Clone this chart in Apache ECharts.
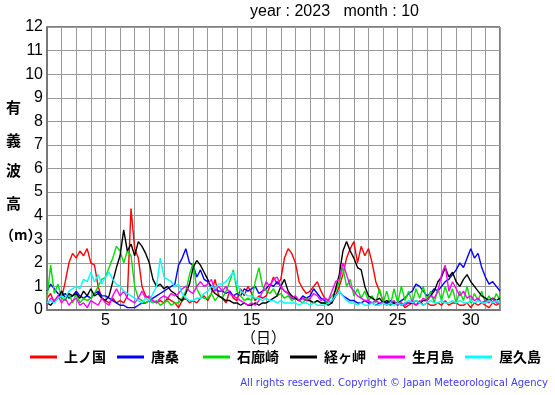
<!DOCTYPE html>
<html><head><meta charset="utf-8">
<script src="https://cdn.jsdelivr.net/npm/echarts@6/dist/echarts.min.js"></script>
<style>html,body{margin:0;padding:0;background:#fff}#c{width:555px;height:395px}</style>
</head><body><div id="c"></div>
<script>
// 6-hourly samples starting at day 1.00
const startDay = 1, stepDays = 0.25;
const names = ['上ノ国','唐桑','石廊崎','経ヶ岬','生月島','屋久島'];
const colors = ['#ff0000','#0000ff','#00dd00','#000000','#ff00ff','#00ffff'];
const xTicks = [5,10,15,20,25,30];

const kaminokuni = [
0.5,0.7,0.3,0.6, 0.5,1.2,2.0,2.4, 2.2,2.5,2.3,2.6, 2.0,1.9,1.0,0.5, 0.4,0.3,0.5,0.3,
0.4,0.3,0.6,4.3, 2.6,2.2,1.0,0.6, 0.5,0.4,0.3,0.4, 0.3,0.5,0.4,0.3, 0.1,0.4,0.5,0.3,
0.4,0.3,0.5,0.6, 0.4,0.7,1.3,0.6, 0.5,0.3,0.8,0.5, 0.4,0.9,0.6,1.0, 0.7,0.4,0.6,0.5,
0.6,1.0,1.4,1.1, 1.3,2.2,2.6,2.4, 2.0,1.2,0.9,0.7, 0.8,1.0,1.2,0.8, 0.5,0.4,0.3,0.6,
1.0,1.5,2.2,2.6, 2.9,2.0,2.7,2.3, 2.6,2.0,1.2,0.8, 0.4,0.3,0.2,0.3, 0.2,0.3,0.1,0.2,
0.3,0.2,0.4,0.2, 0.3,0.2,0.2,0.3, 0.2,0.4,0.2,0.3, 0.3,0.2,0.2,0.3, 0.1,0.3,0.2,0.3,
0.2,0.1,0.3,0.2, 0.3];
const karakuwa = [
0.8,1.1,0.9,0.7, 0.6,0.7,0.5,0.6, 0.8,0.6,0.5,0.6, 0.5,0.7,0.8,0.6, 0.6,0.5,0.4,0.3,
0.2,0.2,0.1,0.1, 0.1,0.2,0.3,0.3, 0.4,0.5,0.6,0.7, 0.8,0.9,1.0,1.1, 1.9,2.2,2.6,2.0,
1.9,1.4,1.7,1.3, 1.2,1.0,0.9,0.8, 0.8,0.7,0.8,0.6, 0.7,0.6,0.9,0.8, 0.9,1.0,0.7,0.8,
0.9,1.1,1.0,1.2, 1.0,0.8,0.7,0.5, 0.5,0.4,0.6,0.5, 0.6,0.9,0.7,0.5, 0.4,0.3,0.4,0.6,
0.8,0.6,0.5,0.4, 0.4,0.3,0.3,0.4, 0.3,0.3,0.2,0.3, 0.3,0.3,0.4,0.3, 0.3,0.4,0.5,0.7,
0.8,1.1,1.0,0.8, 0.6,0.7,0.9,0.8, 1.0,1.2,1.3,1.5, 1.7,2.0,1.8,2.2, 2.6,2.2,2.4,1.8,
1.4,1.1,1.2,1.0, 0.8];
const irozaki = [
0.5,1.9,0.7,1.1, 0.5,0.4,0.7,0.3, 0.7,0.3,0.5,0.4, 0.5,0.7,1.0,1.3, 1.4,1.8,2.2,2.7,
2.5,2.0,2.5,2.3, 1.0,0.5,0.4,0.3, 0.4,0.3,0.4,0.2, 0.3,0.4,0.2,0.3, 0.3,0.5,0.8,1.5,
2.0,0.9,0.6,0.5, 0.5,0.7,0.4,0.6, 0.5,0.8,1.2,1.7, 0.8,0.6,0.4,0.5, 0.4,1.2,1.8,1.0,
0.8,0.7,0.9,0.6, 0.7,0.5,0.6,0.4, 0.5,0.4,0.3,0.5, 0.4,0.3,0.4,0.3, 0.3,0.4,0.6,0.8,
1.2,1.8,1.0,1.3, 0.6,0.9,0.5,0.8, 0.4,0.6,0.3,0.9, 0.3,0.8,0.2,0.9, 0.3,1.0,0.4,0.8,
0.3,0.9,0.5,1.0, 0.4,0.8,0.3,0.9, 0.4,1.0,0.5,0.9, 0.3,0.8,0.4,1.0, 0.3,0.7,0.4,0.8,
0.3,0.6,0.3,0.7, 0.4];
const kyogamisaki = [
0.3,0.2,0.4,0.5, 0.8,0.5,0.7,0.6, 0.7,0.5,0.8,0.6, 0.9,0.6,0.7,0.5, 0.4,0.6,1.2,1.8,
2.3,3.4,2.5,2.8, 2.3,2.9,2.7,2.4, 2.0,1.3,1.0,1.1, 0.9,1.0,0.8,0.7, 0.5,0.4,0.7,1.1,
1.8,2.1,1.9,1.6, 1.3,0.9,0.7,0.6, 0.5,0.4,0.4,0.3, 0.3,0.2,0.3,0.2, 0.2,0.3,0.2,0.3,
0.3,0.4,0.5,0.6, 1.0,1.3,0.8,0.6, 0.5,0.4,0.5,0.4, 0.4,0.3,0.4,0.3, 0.3,0.2,0.3,0.9,
1.5,2.5,2.9,2.5, 2.2,1.8,1.7,1.0, 0.6,0.5,0.4,0.5, 0.3,0.4,0.3,0.3, 0.3,0.2,0.3,0.3,
0.3,0.4,0.3,0.4, 0.4,0.6,0.8,1.2, 1.4,1.8,1.4,1.6, 1.2,1.0,1.3,1.5, 1.2,1.0,0.8,0.6,
0.5,0.4,0.5,0.4, 0.5];
const ikitsuki = [
0.2,0.5,0.4,0.6, 0.3,0.5,0.2,0.4, 0.5,0.2,0.3,0.1, 0.4,0.3,0.2,0.5, 0.3,0.2,0.6,0.9,
0.6,0.8,0.5,0.4, 0.3,0.5,0.8,0.5, 0.6,0.4,0.3,0.5, 0.6,0.5,0.7,0.6, 0.7,0.9,1.0,0.8,
0.7,1.0,1.2,1.0, 1.1,1.3,0.8,1.0, 0.8,1.0,0.7,0.6, 0.5,0.4,0.3,0.2, 0.3,0.2,0.4,0.8,
1.2,1.0,1.3,1.4, 1.0,0.8,0.7,0.5, 0.6,0.4,0.5,0.4, 0.5,0.7,0.6,0.4, 0.5,0.4,0.8,1.2,
1.3,2.0,1.5,1.0, 0.8,0.6,0.5,0.4, 0.4,0.3,0.4,0.3, 0.3,0.2,0.3,0.4, 0.2,0.3,0.2,0.3,
0.4,0.2,0.3,0.5, 0.4,0.6,0.5,0.8, 1.5,1.9,0.8,1.2, 0.9,0.6,0.8,0.5, 0.6,0.4,0.5,0.3,
0.4,0.3,0.5,0.3, 0.3];
const yakushima = [
0.3,0.4,0.3,0.5, 0.6,0.5,0.8,0.9, 1.0,0.9,1.3,1.2, 1.6,1.2,1.5,1.1, 1.4,1.6,1.3,1.1,
1.0,0.8,0.7,0.6, 0.5,0.4,0.3,0.5, 0.4,0.7,1.0,2.2, 1.4,1.3,1.2,1.0, 1.1,0.7,0.5,0.4,
0.4,0.5,0.5,0.7, 0.8,1.0,0.9,1.1, 1.1,1.2,1.4,1.6, 1.1,0.8,0.7,0.6, 0.6,0.5,0.5,0.4,
0.5,0.4,0.4,0.3, 0.4,0.3,0.3,0.3, 0.3,0.2,0.3,0.3, 0.2,0.3,0.2,0.2, 0.2,0.3,0.4,0.6,
0.8,0.6,0.4,0.3, 0.3,0.2,0.3,0.2, 0.2,0.3,0.2,0.2, 0.3,0.2,0.3,0.2, 0.3,0.2,0.3,0.4,
0.3,0.4,0.3,0.2, 0.3,0.4,0.3,0.3, 0.4,0.3,0.3,0.4, 0.3,0.4,0.3,0.3, 0.4,0.3,0.4,0.3,
0.3,0.4,0.3,0.4, 0.3];

const seriesValues = [kaminokuni, karakuwa, irozaki, kyogamisaki, ikitsuki, yakushima];

const chart = echarts.init(document.getElementById('c'), null, {renderer:'canvas'});
const legendLefts = [30,117,203,290,378,465];
const cjk = '"Noto Sans CJK JP", sans-serif';
const latin = '"Liberation Sans", Arial, sans-serif';

const option = {
  animation: false,
  backgroundColor: '#fff',
  graphic: [
    {type: 'text', left: 6, top: 100, style: {text: '有', font: 'bold 15px ' + cjk, fill: '#000'}},
    {type: 'text', left: 6, top: 133, style: {text: '義', font: 'bold 15px ' + cjk, fill: '#000'}},
    {type: 'text', left: 6, top: 163, style: {text: '波', font: 'bold 15px ' + cjk, fill: '#000'}},
    {type: 'text', left: 6, top: 196, style: {text: '高', font: 'bold 15px ' + cjk, fill: '#000'}},
    {type: 'text', left: 0, top: 228, style: {text: '（m）', font: 'bold 14px ' + cjk, fill: '#000'}},
    {type: 'text', left: 241, top: 330, style: {text: '（日）', font: '15px ' + cjk, fill: '#000'}},
    {type: 'text', left: 250, top: 4, style: {text: 'year : 2023   month : 10', font: '16px ' + latin, fill: '#000'}},
    {type: 'text', right: 7, top: 378, style: {text: 'All rights reserved. Copyright © Japan Meteorological Agency', font: '10px "DejaVu Sans", sans-serif', fill: '#3b3bff'}}
  ],
  grid: {left: 47, top: 27, right: 55, bottom: 85, show: true, borderColor: '#000', borderWidth: 1, backgroundColor: 'transparent'},
  xAxis: {
    type: 'value', min: 1, max: 32, interval: 1,
    axisLine: {show: true, lineStyle: {color: '#777', width: 2}},
    axisTick: {show: false},
    axisLabel: {
      fontFamily: latin, fontSize: 16, color: '#000', margin: 3,
      formatter: v => xTicks.indexOf(v) >= 0 ? String(v) : ''
    },
    splitLine: {show: true, lineStyle: {color: '#999', width: 1}}
  },
  yAxis: {
    type: 'value', min: 0, max: 12, interval: 1,
    axisLine: {show: true, lineStyle: {color: '#777', width: 2}},
    axisTick: {show: false},
    axisLabel: {fontFamily: latin, fontSize: 16, color: '#000', margin: 4},
    splitLine: {show: true, lineStyle: {color: '#999', width: 1}}
  },
  legend: names.map((n, i) => ({
    data: [n], left: legendLefts[i], top: 350, icon: 'rect', itemWidth: 27, itemHeight: 3, itemGap: 0,
    padding: 0, selectedMode: false,
    textStyle: {fontFamily: cjk, fontSize: 14, fontWeight: 'bold', color: '#000', padding: [0,0,0,2]}
  })),
  series: seriesValues.map((vals, i) => ({
    name: names[i], type: 'line', showSymbol: false, symbol: 'none',
    lineStyle: {color: colors[i], width: 1.4}, itemStyle: {color: colors[i]},
    data: vals.map((v, k) => [startDay + k * stepDays, v])
  }))
};
chart.setOption(option);
</script></body></html>
